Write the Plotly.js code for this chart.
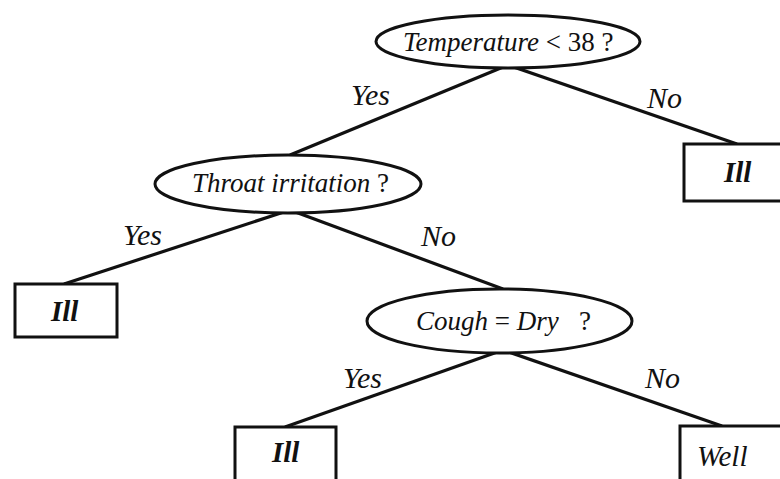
<!DOCTYPE html>
<html>
<head>
<meta charset="utf-8">
<script src="https://cdn.plot.ly/plotly-3.0.1.min.js"></script>
<style>html,body{margin:0;padding:0;background:#fff;}#chart{width:780px;height:479px;}</style>
</head>
<body>
<div id="chart"></div>
<script>
// ---- Tree data ----
const nodeLabels = [
  '<i>Temperature</i> &lt; 38 ?',
  '<i>Throat irritation</i> ?',
  'Ill',
  '<i>Cough</i> = <i>Dry</i>   ?',
  'Ill',
  'Ill',
  'Well'
];
const nodeKind = ['question', 'question', 'leaf', 'question', 'leaf', 'leaf', 'leaf'];
// node centre / extents in diagram units
const nodeX = [508, 290, 64, 503, 737, 285, 722];
const nodeTextY = [42, 183, 311, 321, 172, 452, 456];
const nodeLeft = [376, 155, 15, 367, 684, 235, 680];
const nodeRight = [640, 421, 117, 632, 800, 336, 800];
const nodeTop = [15, 155, 284, 289, 144, 427, 426];
const nodeBottom = [68, 213, 337, 353, 201, 495, 495];

const edgeFrom = [0, 0, 1, 1, 3, 3];
const edgeTo = [1, 4, 2, 3, 5, 6];
const edgeLabels = ['Yes', 'No', 'Yes', 'No', 'Yes', 'No'];
const edgeLabelX = [370, 664, 142, 438, 362, 662];
const edgeLabelY = [94, 97, 234, 235, 377, 377];

// ---- Build marks ----
const ink = '#111111';
const serif = 'Liberation Serif, Times New Roman, Times, serif';
const ex = [], ey = [];
edgeFrom.forEach((f, i) => {
  const t = edgeTo[i];
  ex.push(nodeX[f], nodeX[t], null);
  ey.push(nodeBottom[f] - 3, nodeTop[t], null);
});

const shapes = nodeLabels.map((_, i) => ({
  type: nodeKind[i] === 'question' ? 'circle' : 'rect',
  xref: 'x', yref: 'y',
  x0: nodeLeft[i], x1: nodeRight[i],
  y0: nodeTop[i], y1: nodeBottom[i],
  line: {color: ink, width: 3},
  fillcolor: 'white',
  layer: 'above'
}));

const annotations = [];
nodeLabels.forEach((lab, i) => {
  const leaf = nodeKind[i] === 'leaf';
  annotations.push({
    x: nodeX[i], y: nodeTextY[i], xref: 'x', yref: 'y',
    text: leaf ? (lab === 'Ill' ? '<b><i>' + lab + '</i></b>' : '<i>' + lab + '</i>') : lab,
    showarrow: false, xanchor: 'center', yanchor: 'middle',
    font: {family: serif, size: leaf ? 29 : 27, color: ink}
  });
});
edgeLabels.forEach((lab, i) => {
  annotations.push({
    x: edgeLabelX[i], y: edgeLabelY[i], xref: 'x', yref: 'y',
    text: '<i>' + lab + '</i>', showarrow: false, xanchor: 'center', yanchor: 'middle',
    font: {family: serif, size: 30, color: ink}
  });
});

const data = [{
  type: 'scatter', mode: 'lines', x: ex, y: ey,
  line: {color: ink, width: 3.2}, hoverinfo: 'skip', showlegend: false
}];

const layout = {
  width: 780, height: 479,
  margin: {l: 0, r: 0, t: 0, b: 0},
  paper_bgcolor: 'white', plot_bgcolor: 'white',
  font: {family: serif},
  xaxis: {range: [0, 780], visible: false, fixedrange: true},
  yaxis: {range: [479, 0], visible: false, fixedrange: true},
  shapes: shapes,
  annotations: annotations,
  showlegend: false
};

Plotly.newPlot('chart', data, layout, {displayModeBar: false, staticPlot: true});
</script>
</body>
</html>
